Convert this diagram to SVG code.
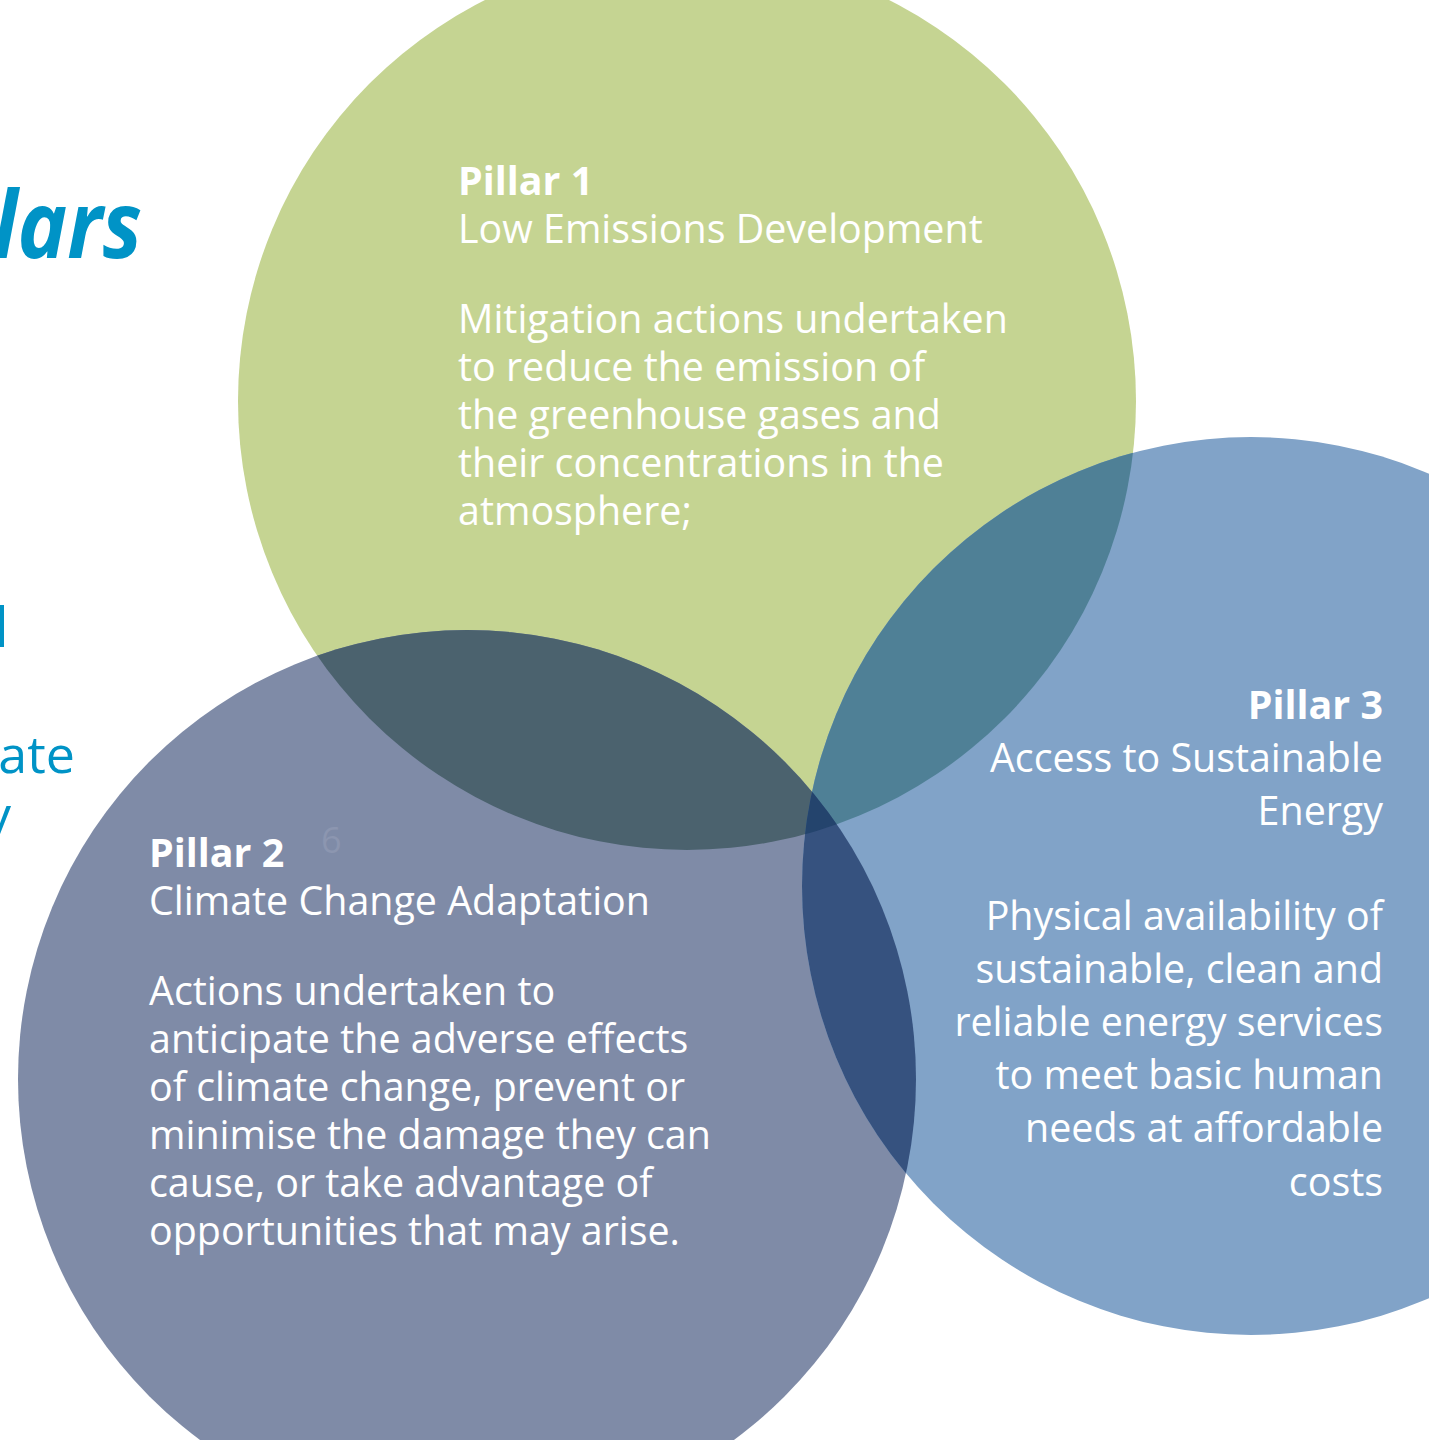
<svg xmlns="http://www.w3.org/2000/svg" width="1429" height="1440" viewBox="0 0 1429 1440">
<style>
.t{font-family:"Open Sans","Noto Sans","Liberation Sans",sans-serif;fill:#ffffff;font-size:39.4px}
.b{font-weight:bold}
.side{font-family:"Open Sans","Noto Sans","Liberation Sans",sans-serif;fill:#0093C6}
</style>
<defs>
<clipPath id="cG"><circle cx="687" cy="401" r="449"/></clipPath>
<clipPath id="cS"><circle cx="467" cy="1079" r="449"/></clipPath>
<clipPath id="cB"><circle cx="1251" cy="886" r="449"/></clipPath>
</defs>
<rect width="1429" height="1440" fill="#ffffff"/>
<g id="side-text">
<text class="side" transform="translate(142,258) scale(0.89,1)" x="0" y="0" text-anchor="end" font-size="94" font-weight="bold" font-style="italic">lars</text>
<text class="side" x="-5" y="647" font-size="54">l</text>
<text class="side" x="75" y="773" text-anchor="end" font-size="52">ate</text>
<text class="side" x="11" y="833" text-anchor="end" font-size="52">y</text>
</g>
<g id="circles">
<circle id="pillar1-circle" cx="687" cy="401" r="449" fill="#C5D492"/>
<circle id="pillar2-circle" cx="467" cy="1079" r="449" fill="#7F8BA7"/>
<circle id="pillar3-circle" cx="1251" cy="886" r="449" fill="#81A3C8"/>
<g clip-path="url(#cG)"><circle cx="467" cy="1079" r="449" fill="#4B626E"/></g>
<g clip-path="url(#cG)"><circle cx="1251" cy="886" r="449" fill="#4F8096"/></g>
<g clip-path="url(#cS)"><circle cx="1251" cy="886" r="449" fill="#36527F"/></g>
<g clip-path="url(#cS)"><g clip-path="url(#cB)"><circle cx="687" cy="401" r="449" fill="#24446D"/></g></g>
</g>
<g id="connectors"/>
<g id="pillar1">
<text class="t b" x="458" y="195">Pillar 1</text>
<text class="t" x="458" y="243">Low Emissions Development</text>
<text class="t" x="458" y="333">Mitigation actions undertaken</text>
<text class="t" x="458" y="381">to reduce the emission of</text>
<text class="t" x="458" y="429">the greenhouse gases and</text>
<text class="t" x="458" y="477">their concentrations in the</text>
<text class="t" x="458" y="525">atmosphere;</text>
</g>
<g id="pillar2">
<text class="t b" x="149" y="867">Pillar 2</text>
<text x="321" y="853" font-family="Open Sans, sans-serif" font-size="36" fill="#8C96B0">6</text>
<text class="t" x="149" y="915">Climate Change Adaptation</text>
<text class="t" x="149" y="1005">Actions undertaken to</text>
<text class="t" x="149" y="1053">anticipate the adverse effects</text>
<text class="t" x="149" y="1101">of climate change, prevent or</text>
<text class="t" x="149" y="1149">minimise the damage they can</text>
<text class="t" x="149" y="1197">cause, or take advantage of</text>
<text class="t" x="149" y="1245">opportunities that may arise.</text>
</g>
<g id="pillar3" text-anchor="end">
<text class="t b" x="1383" y="719">Pillar 3</text>
<text class="t" x="1383" y="772">Access to Sustainable</text>
<text class="t" x="1383" y="825">Energy</text>
<text class="t" x="1383" y="930">Physical availability of</text>
<text class="t" x="1383" y="983">sustainable, clean and</text>
<text class="t" x="1383" y="1036">reliable energy services</text>
<text class="t" x="1383" y="1089">to meet basic human</text>
<text class="t" x="1383" y="1142">needs at affordable</text>
<text class="t" x="1383" y="1196">costs</text>
</g>
</svg>
